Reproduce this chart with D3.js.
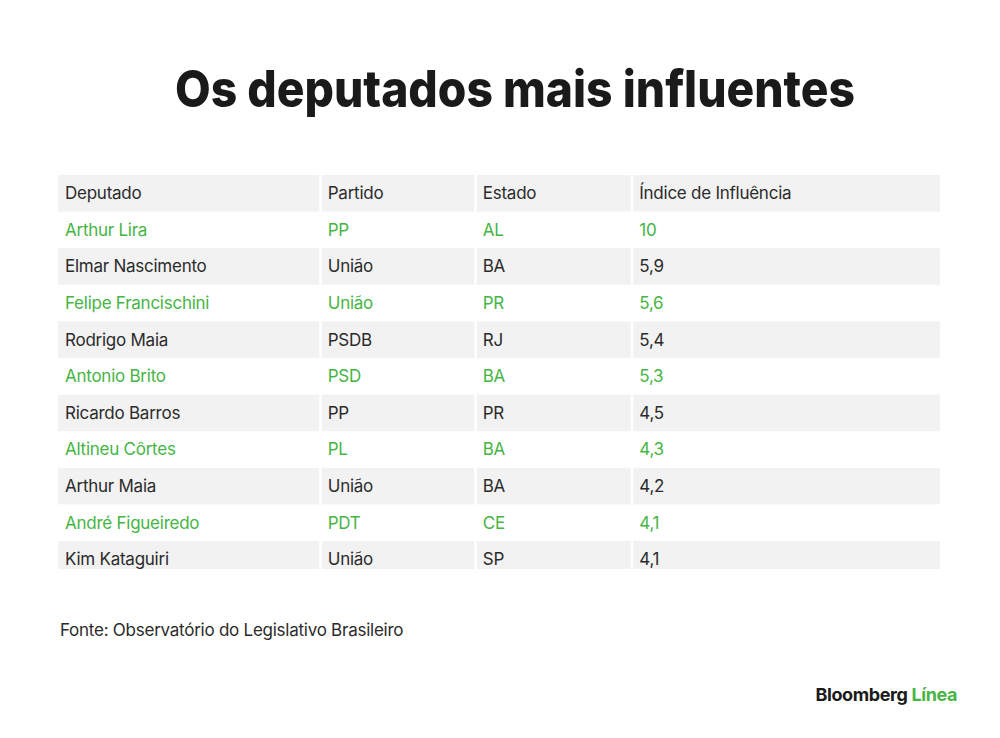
<!DOCTYPE html>
<html>
<head>
<meta charset="utf-8">
<script src="https://cdn.jsdelivr.net/npm/d3@7"></script>
<style>
  body { margin: 0; background: #fff; }
  svg text { font-family: Inter, "Noto Sans", sans-serif; }
</style>
</head>
<body>
<svg id="chart" width="1000" height="738"></svg>
<script>
var title    = "Os deputados mais influentes",
    source   = "Fonte: Observatório do Legislativo Brasileiro",
    columns  = ["Deputado", "Partido", "Estado", "Índice de Influência"]

var deputados = ["Arthur Lira", "Elmar Nascimento", "Felipe Francischini", "Rodrigo Maia", "Antonio Brito",
                 "Ricardo Barros", "Altineu Côrtes", "Arthur Maia", "André Figueiredo", "Kim Kataguiri"],
    partidos  = ["PP", "União", "União", "PSDB", "PSD", "PP", "PL", "União", "PDT", "União"],
    estados   = ["AL", "BA", "PR", "RJ", "BA", "PR", "BA", "BA", "CE", "SP"],
    indices   = [10, 5.9, 5.6, 5.4, 5.3, 4.5, 4.3, 4.2, 4.1, 4.1]

var green = "#46b545",
    dark  = "#2b2b2b",
    gray  = "#f2f2f2"

var svg = d3.select("#chart")

// title, squeezed to the width of the original
svg.append("text")
  .attr("x", 515).attr("y", 107)
  .attr("text-anchor", "middle")
  .attr("font-size", 51)
  .attr("font-weight", 800)
  .attr("fill", "#1a1a1a")
  .attr("textLength", 680)
  .attr("lengthAdjust", "spacingAndGlyphs")
  .text(title)

// table
var colEdges = [58, 320.5, 475.5, 632, 940],
    gap = 2.5
var rows = [columns].concat(deputados.map((d, i) => [d, partidos[i], estados[i], d3.format(",")(indices[i]).replace(".", ",")]))

var y = d3.scaleBand()
  .domain(d3.range(rows.length))
  .range([175, 175 + 36.6 * rows.length])

svg.append("clipPath").attr("id", "tclip")
  .append("rect").attr("x", 0).attr("y", 170).attr("width", 1000).attr("height", 569 - 170)

var tg = svg.append("g").attr("clip-path", "url(#tclip)")

var row = tg.selectAll("g.row")
  .data(rows)
  .join("g")
  .attr("class", "row")
  .attr("transform", (d, i) => "translate(0," + y(i) + ")")

row.each(function(r, i) {
  var g = d3.select(this)
  var shaded = i % 2 == 0
  var color = (i > 0 && i % 2 == 1) ? green : dark
  r.forEach((cell, c) => {
    var x0 = colEdges[c] + (c > 0 ? gap / 2 : 0),
        x1 = colEdges[c + 1] - (c < 3 ? gap / 2 : 0)
    if(shaded) g.append("rect")
      .attr("x", x0).attr("width", x1 - x0)
      .attr("y", 0).attr("height", y.bandwidth())
      .attr("fill", gray)
    g.append("text")
      .attr("x", x0 + (c == 0 ? 7 : 6))
      .attr("y", y.bandwidth() / 2 + 6)
      .attr("font-size", 17)
      .attr("letter-spacing", -0.25)
      .attr("fill", color)
      .text(cell)
  })
})

svg.append("text")
  .attr("x", 60).attr("y", 636)
  .attr("font-size", 17)
  .attr("letter-spacing", -0.25)
  .attr("fill", dark)
  .text(source)

var logo = svg.append("text")
  .attr("x", 957).attr("y", 701)
  .attr("text-anchor", "end")
  .attr("font-size", 18)
  .attr("font-weight", 700)
  .attr("letter-spacing", -0.4)
logo.append("tspan").attr("fill", "#1a1a1a").text("Bloomberg ")
logo.append("tspan").attr("fill", green).text("Línea")
</script>
</body>
</html>
